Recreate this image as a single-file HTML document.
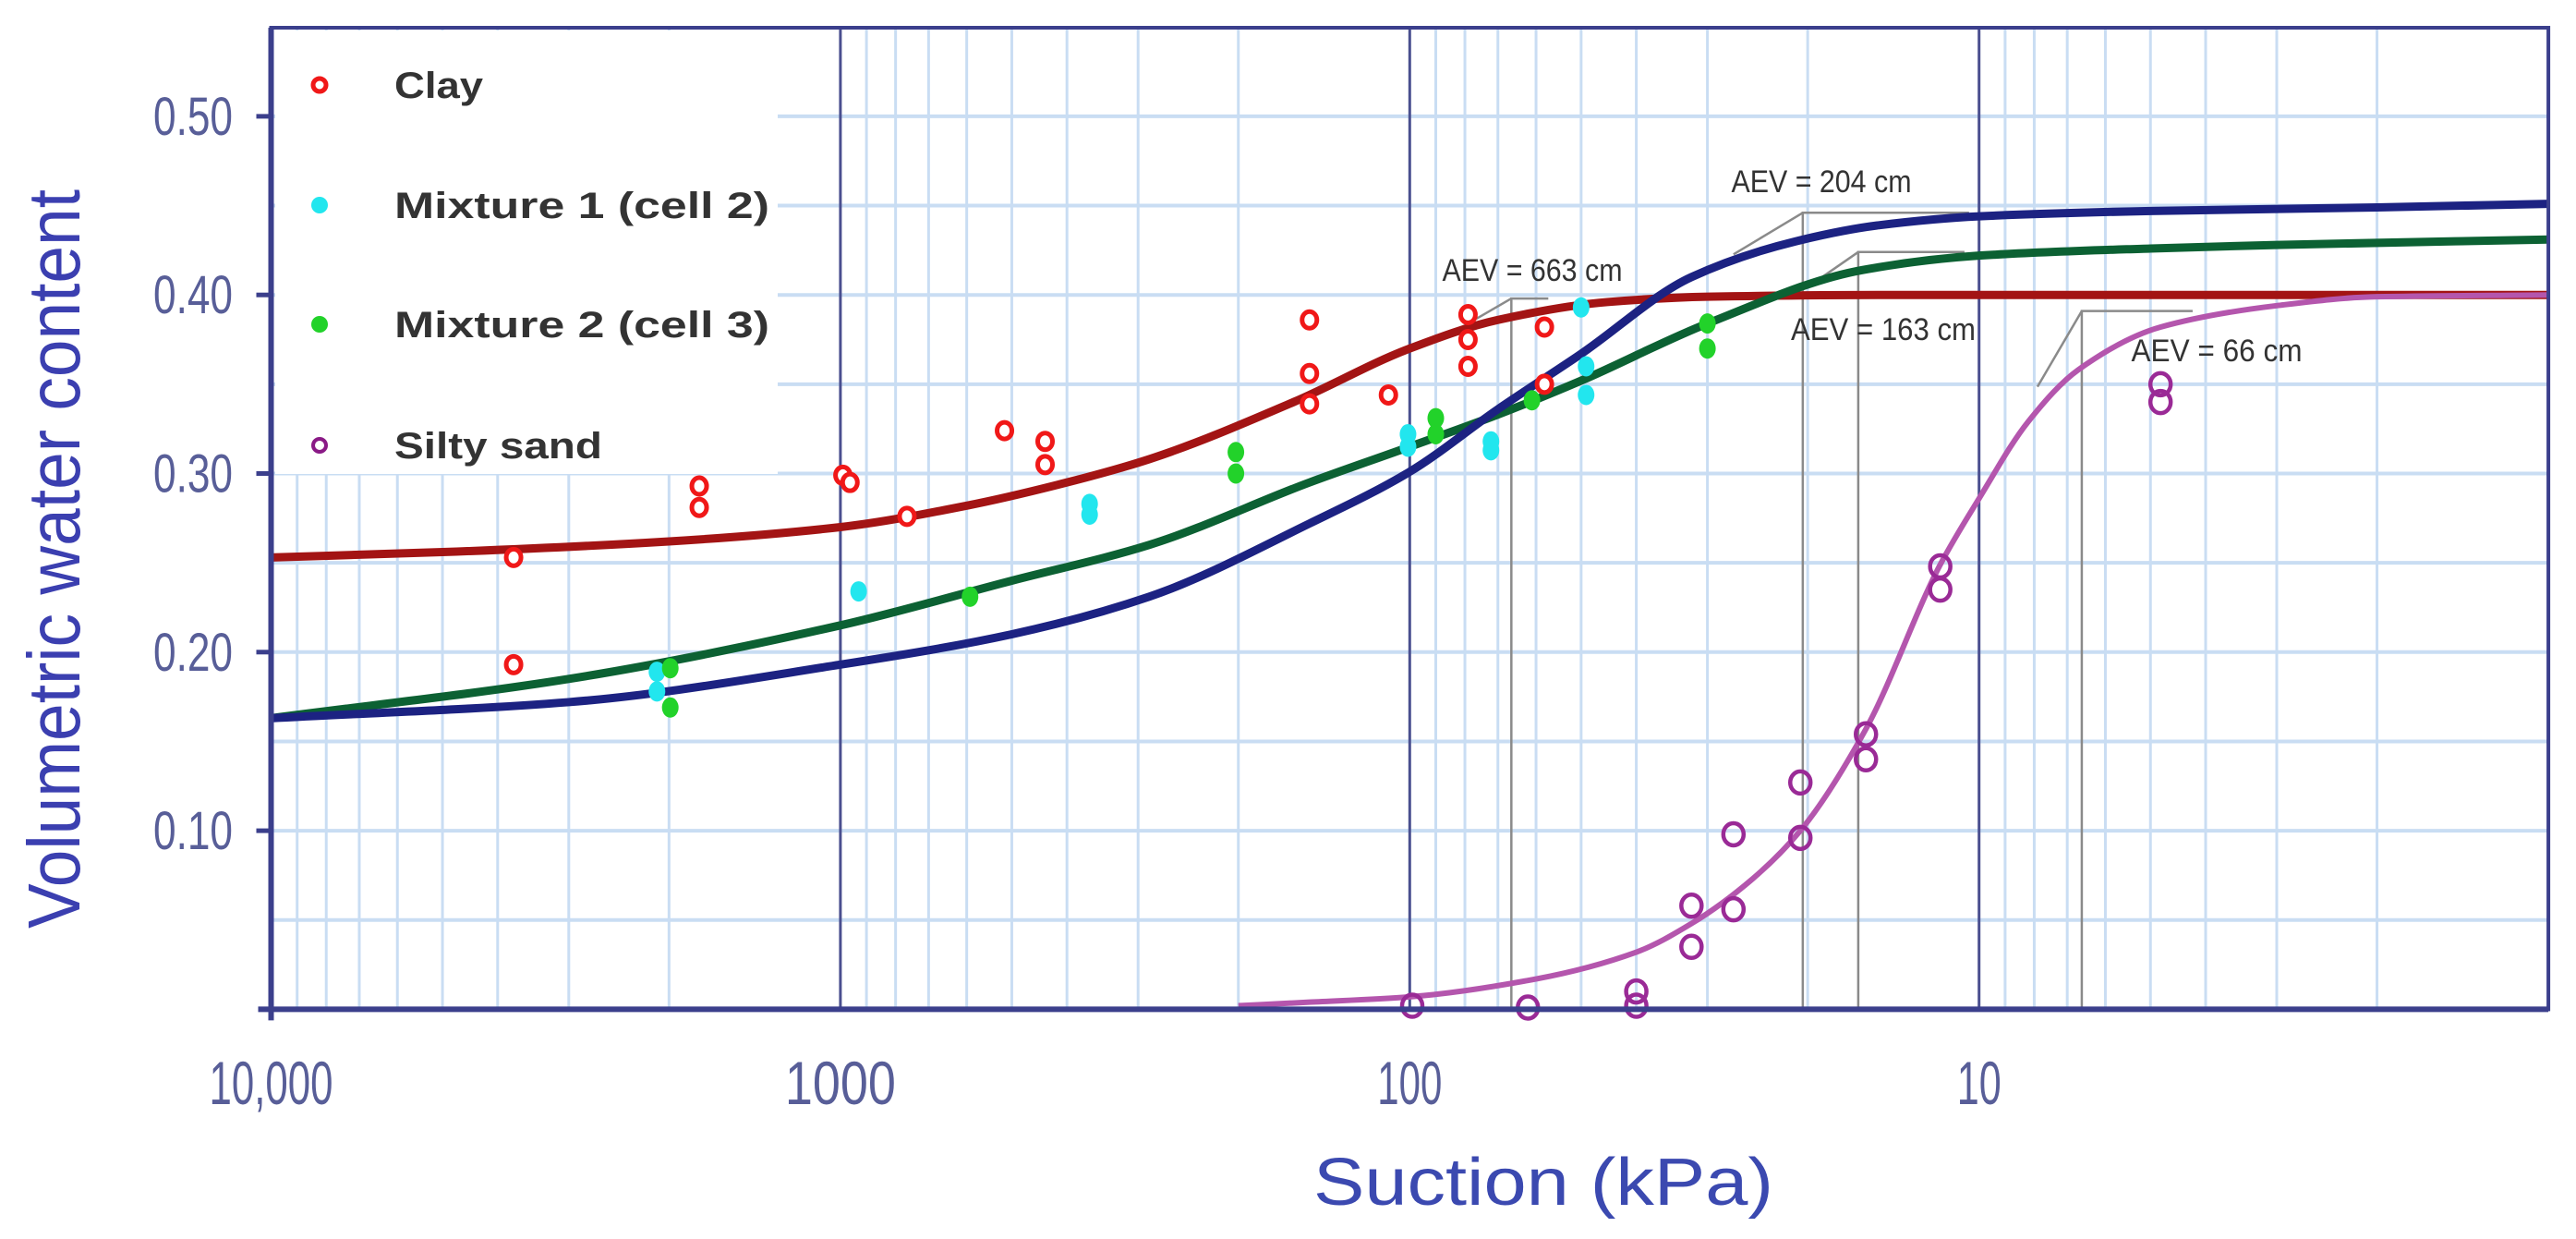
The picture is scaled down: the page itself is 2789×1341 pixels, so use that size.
<!DOCTYPE html>
<html><head><meta charset="utf-8"><style>
html,body{margin:0;padding:0;background:#fff;}
svg{display:block;}
text{font-family:"Liberation Sans",sans-serif;}
</style></head><body>
<svg id="chart" width="2789" height="1341" viewBox="0 0 2789 1341" xmlns="http://www.w3.org/2000/svg">
<g id="grid"></g>
<g id="legendbox">
  <rect x="298" y="33" width="544" height="480" fill="#fff"/>
</g>
<g id="aev"></g>
<g id="curves"></g>
<g id="points"></g>
<g id="axes"></g>
<g id="legend"></g>
<text x="0" y="0" transform="translate(86,605) rotate(-90)" text-anchor="middle" font-size="80" fill="#3b3fb0" textLength="800" lengthAdjust="spacingAndGlyphs">Volumetric water content</text>
<text x="1671" y="1304" text-anchor="middle" font-size="72" fill="#3b49b0" textLength="498" lengthAdjust="spacingAndGlyphs">Suction (kPa)</text>
</svg>
<script>
// ---- data ----
const xTicks = [10000, 1000, 100, 10];
const xTickLabels = ["10,000", "1000", "100", "10"];
const yTicks = [0.1, 0.2, 0.3, 0.4, 0.5];
const yTickLabels = ["0.10", "0.20", "0.30", "0.40", "0.50"];

const clayCurveS = [10000,5000,2000,1000,600,400,287,160,100,70,45,30,15,5,2,1];
const clayCurveT = [0.253,0.256,0.262,0.270,0.282,0.295,0.308,0.340,0.370,0.386,0.396,0.399,0.400,0.400,0.400,0.400];
const mix1CurveS = [10000,3000,1000,500,287,150,100,70,50,32,21,15,10,5,2,1];
const mix1CurveT = [0.163,0.172,0.193,0.210,0.231,0.272,0.301,0.336,0.367,0.410,0.430,0.439,0.444,0.447,0.449,0.451];
const mix2CurveS = [10000,3000,1000,500,287,150,100,70,50,30,16,10,5,3,1];
const mix2CurveT = [0.163,0.185,0.215,0.240,0.260,0.295,0.315,0.333,0.352,0.384,0.414,0.422,0.426,0.428,0.431];
const sandCurveS = [200,150,100,60,40,32,25,20.6,15.8,11.7,10,8.2,6.7,4.8,3,2,1];
const sandCurveT = [0.002,0.004,0.007,0.017,0.032,0.048,0.073,0.100,0.157,0.249,0.286,0.329,0.358,0.382,0.394,0.399,0.400];

const clayPtS = [3750,3750,1770,1770,990,962,764,515,437,437,150,150,150,109,79,79,79,58,58];
const clayPtT = [0.253,0.193,0.293,0.281,0.299,0.295,0.276,0.324,0.318,0.305,0.386,0.356,0.339,0.344,0.389,0.375,0.360,0.382,0.350];
const mix1PtS = [2100,2100,929,365,365,100.7,100.7,72,72,50,49,49];
const mix1PtT = [0.189,0.178,0.234,0.283,0.277,0.322,0.315,0.318,0.313,0.393,0.360,0.344];
const mix2PtS = [1990,1990,592,202,202,90,90,61,30,30];
const mix2PtT = [0.191,0.169,0.231,0.312,0.300,0.331,0.322,0.341,0.384,0.370];
const sandPtS = [99,62,40,40,32,32,27,27,20.6,20.6,15.8,15.8,11.7,11.7,4.8,4.8];
const sandPtT = [0.002,0.001,0.010,0.002,0.058,0.035,0.098,0.056,0.127,0.096,0.154,0.140,0.248,0.235,0.350,0.340];

const aevLabels = ["AEV = 663 cm", "AEV = 204 cm", "AEV = 163 cm", "AEV = 66 cm"];
const aevS = [66.3, 20.4, 16.3, 6.6];
const aevT = [0.398, 0.446, 0.424, 0.391];

const legendLabels = ["Clay", "Mixture 1 (cell 2)", "Mixture 2 (cell 3)", "Silty sand"];

// ---- axis functions ----
const X0 = 293.5, DEC = 616.4, Y0 = 1092.4, YS = 1933, YTOP = 30, XR = X0 + 4*DEC;
function xs(s){ return X0 + DEC*(4 - Math.log10(s)); }
function ys(t){ return Y0 - YS*t; }
const NS = "http://www.w3.org/2000/svg";
function mk(tag, attrs, parent){
  const e = document.createElementNS(NS, tag);
  for (const k in attrs) e.setAttribute(k, attrs[k]);
  parent.appendChild(e); return e;
}

// grid
const grid = document.getElementById('grid');
for (let v = 0.05; v < 0.549; v += 0.05) {
  const l = mk('line', {x1:X0, x2:XR, y1:ys(v), y2:ys(v), stroke:'#c9ddf3', 'stroke-width':4}, grid);
  
  
}
for (let d = 0; d < 4; d++) {
  const base = Math.pow(10, d);
  for (let m = 2; m <= 9; m++) {
    const l = mk('line', {x1:xs(base*m), x2:xs(base*m), y1:YTOP, y2:Y0, stroke:'#c9ddf3', 'stroke-width':3}, grid);
    
    
  }
}
[1000, 100, 10].forEach(s => {
  const l = mk('line', {x1:xs(s), x2:xs(s), y1:YTOP, y2:Y0, stroke:'#4a4f8f', 'stroke-width':3}, grid);
  
  
});

// axes
const axes = document.getElementById('axes');
const frame = mk('rect', {x:X0, y:YTOP, width:XR-X0, height:Y0-YTOP, fill:'none', stroke:'#3b3f8c', 'stroke-width':4}, axes);


mk('line', {x1:X0-14, x2:XR, y1:Y0, y2:Y0, stroke:'#3b3f8c', 'stroke-width':6}, axes);
mk('line', {x1:X0, x2:X0, y1:YTOP, y2:Y0+12, stroke:'#3b3f8c', 'stroke-width':6}, axes);
yTicks.forEach((v, i) => {
  const tk = mk('line', {x1:X0-16, x2:X0, y1:ys(v), y2:ys(v), stroke:'#3b3f8c', 'stroke-width':5}, axes);
  
  
  const t = mk('text', {x:209, y:ys(v)+20, 'text-anchor':'middle', 'font-size':58, fill:'#585e98', textLength:86, lengthAdjust:'spacingAndGlyphs'}, axes);
  t.textContent = yTickLabels[i];
  
  
});
const xLabW = [134, 120, 70, 48];
xTicks.forEach((s, i) => {
  const t = mk('text', {x:xs(s), y:1195, 'text-anchor':'middle', 'font-size':66, fill:'#585e98', textLength:xLabW[i], lengthAdjust:'spacingAndGlyphs'}, axes);
  t.textContent = xTickLabels[i];
  
  
});

// AEV annotations
const aev = document.getElementById('aev');
const aevLabX = [1659, 1972, 2039, 2400];
const aevLabY = [304, 208, 368, 391];
const aevLabW = [195, 195, 200, 185];
const aevDiag = [[-38, 22], [-75, 45], [-52, 36], [-48, 82]];
const aevH = [40, 180, 115, 120];
aevS.forEach((s, i) => {
  const x = xs(s), y = ys(aevT[i]);
  const p = mk('polyline', {points:`${x},${Y0} ${x},${y} ${x+aevH[i]},${y}`, fill:'none', stroke:'#8a8a8a', 'stroke-width':2.5}, aev);
  
  
  const d = mk('line', {x1:x, y1:y, x2:x+aevDiag[i][0], y2:y+aevDiag[i][1], stroke:'#8a8a8a', 'stroke-width':2.5}, aev);
  
  
  const t = mk('text', {x:aevLabX[i], y:aevLabY[i], 'text-anchor':'middle', 'font-size':34, fill:'#333', textLength:aevLabW[i], lengthAdjust:'spacingAndGlyphs'}, aev);
  t.textContent = aevLabels[i];
  
  
});

// curves: monotone cubic in screen space
function smoothPath(S, T){
  const P = S.map((s, i) => [xs(s), ys(T[i])]);
  const n = P.length, m = [], dl = [];
  for (let i = 0; i < n-1; i++) dl.push((P[i+1][1]-P[i][1])/(P[i+1][0]-P[i][0]));
  for (let i = 0; i < n; i++) {
    if (i === 0) m.push(dl[0]);
    else if (i === n-1) m.push(dl[n-2]);
    else if (dl[i-1]*dl[i] <= 0) m.push(0);
    else { const h0 = P[i][0]-P[i-1][0], h1 = P[i+1][0]-P[i][0];
      m.push((h0+h1)/((h0+2*h1)/(3*h0)/dl[i-1]*h0/h0 + 0) ? 3*(h0+h1)/((2*h1+h0)/dl[i-1] + (h1+2*h0)/dl[i]) : 0); }
  }
  let d = `M${P[0][0]},${P[0][1]}`;
  for (let i = 0; i < n-1; i++) {
    const h = P[i+1][0]-P[i][0];
    d += ` C${P[i][0]+h/3},${P[i][1]+m[i]*h/3} ${P[i+1][0]-h/3},${P[i+1][1]-m[i+1]*h/3} ${P[i+1][0]},${P[i+1][1]}`;
  }
  return d;
}
const curves = document.getElementById('curves');
const c1 = mk('path', {d:smoothPath(clayCurveS, clayCurveT), fill:'none', stroke:'#a31414', 'stroke-width':9}, curves);


const c3 = mk('path', {d:smoothPath(mix2CurveS, mix2CurveT), fill:'none', stroke:'#0c6133', 'stroke-width':9}, curves);


const c2 = mk('path', {d:smoothPath(mix1CurveS, mix1CurveT), fill:'none', stroke:'#1c2282', 'stroke-width':9}, curves);


const c4 = mk('path', {d:smoothPath(sandCurveS, sandCurveT), fill:'none', stroke:'#b456ad', 'stroke-width':6}, curves);



// points
const pts = document.getElementById('points');
function drawPts(S, T, name, style){
  S.forEach((s, i) => {
    const e = mk('ellipse', Object.assign({cx:xs(s), cy:ys(T[i])}, style), pts);
    
    
  });
}
drawPts(clayPtS, clayPtT, 'clay-point', {rx:8, ry:9, fill:'#fff', stroke:'#f01818', 'stroke-width':5});
drawPts(mix1PtS, mix1PtT, 'mixture1-point', {rx:9, ry:11, fill:'#22e6ee', stroke:'none'});
drawPts(mix2PtS, mix2PtT, 'mixture2-point', {rx:9, ry:11, fill:'#22d22a', stroke:'none'});
drawPts(sandPtS, sandPtT, 'silty-sand-point', {rx:11, ry:12, fill:'none', stroke:'#9a2a96', 'stroke-width':4.5});

// legend
const lg = document.getElementById('legend');
const legY = [92, 222, 351, 482];
const legStyles = [
  {rx:7, ry:7, fill:'#fff', stroke:'#f01818', 'stroke-width':5},
  {rx:9, ry:9, fill:'#22e6ee'},
  {rx:9, ry:9, fill:'#22d22a'},
  {rx:7, ry:7, fill:'#fff', stroke:'#8a1a86', 'stroke-width':4}
];
const legW = [96, 406, 406, 225];
legendLabels.forEach((lab, i) => {
  const m = mk('ellipse', Object.assign({cx:346, cy:legY[i]}, legStyles[i]), lg);
  
  
  const t = mk('text', {x:427, y:legY[i]+14, 'font-size':40, 'font-weight':'bold', fill:'#333', 'font-family':'"DejaVu Sans",sans-serif', textLength:legW[i], lengthAdjust:'spacingAndGlyphs'}, lg);
  t.textContent = lab;
  
  
});
</script>
</body></html>
